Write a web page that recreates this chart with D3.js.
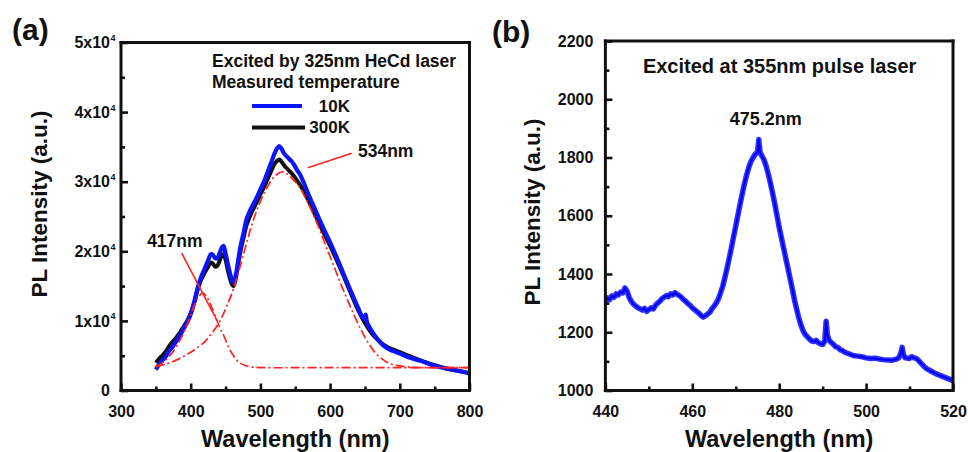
<!DOCTYPE html>
<html><head><meta charset="utf-8">
<script src="https://cdn.jsdelivr.net/npm/d3@7"></script>
<style>
html,body{margin:0;padding:0;background:#fff;}
svg{display:block;font-family:"Liberation Sans",Arial,Helvetica,sans-serif;font-weight:bold;}
</style></head><body>
<svg id="fig" width="968" height="452"></svg>
<script>
// ---------- panel (a): PL spectra, 325 nm HeCd excitation ----------
const wl10K = [350,355,360,365,370,375,380,385,390,395,400,405,410,415,420,425,429,432,435,438,441,444,447,450,453,456,459,461,463,466,469,472,476,480,484,488,492,496,500,505,510,515,520,524,527,530,533,537,541,545,549,553,557,562,568,575,582,590,600,610,620,630,640,646,649,651,653,657,662,668,675,685,695,705,715,725,735,745,755,765,775,785,795,800];
const pl10K = [3000,3800,4400,5000,5800,6400,7200,8000,8900,9800,11000,12700,14800,16300,17500,18700,19600,19500,19000,19000,19600,20400,20800,19700,18300,17000,15900,15500,15900,17300,19300,21000,22700,24600,25600,26400,27200,28000,28900,30000,31300,32600,34000,34800,35100,34800,34200,33700,33300,32900,32300,31600,31000,29900,28400,26800,25200,23400,21300,19000,16600,14200,11900,10600,10300,10900,9800,9000,8200,7400,6600,5900,5500,5100,4700,4400,4100,3700,3400,3200,3000,2800,2600,2400];

const wl300K = [350,355,360,365,370,375,380,385,390,395,400,405,410,415,420,425,429,432,435,438,441,444,447,450,453,456,459,461,463,466,469,472,476,480,484,488,492,496,500,505,510,515,520,524,527,530,533,537,541,545,549,553,557,562,568,575,582,590,600,610,620,630,640,646,650,655,660,668,675,685,695,705,715,725,735,745,755,765,775,785,795,800];
const pl300K = [4000,4600,5100,5700,6500,7100,7700,8400,9200,10000,11100,12600,14500,15900,16900,17800,18400,18200,17800,17900,18500,19300,19600,18800,17400,16200,15300,15000,15400,16800,18700,20300,22000,23700,24800,25700,26500,27300,28200,29200,30300,31400,32500,33000,33200,32900,32500,32000,31600,31200,30700,30100,29500,28700,27500,26000,24500,22800,20800,18600,16300,13900,11600,10400,9700,8900,8200,7300,6700,6100,5700,5300,4900,4500,4100,3800,3500,3200,3000,2800,2600,2500];

// fitted components (dash-dot)
const wlFit417 = [350,360,370,380,390,398,405,411,417,424,430,437,442,447,452,456,460,465,470,478,487,500,600,700,800];
const plFit417 = [3400,4000,5000,6400,8300,10300,12200,13400,14000,13300,12000,10200,9000,8000,6800,5900,5200,4500,4000,3600,3400,3300,3300,3300,3300];
const wlFit534 = [350,365,380,395,406,420,430,438,445,452,460,468,478,488,498,508,518,526,532,540,548,557,566,575,585,595,605,615,625,635,645,655,665,675,685,695,710,725,800];
const plFit534 = [3400,3800,4400,5200,5900,7000,8200,9300,10600,12200,14200,16800,20400,23900,26700,28900,30500,31200,31400,31000,30200,29100,27400,25500,23100,20500,18000,15400,13000,10700,8600,6800,5400,4500,3900,3600,3400,3300,3300];

const xTicksA = [300,400,500,600,700,800];
const xMinorA = [350,450,550,650,750];
const yTicksA = [0,10000,20000,30000,40000,50000];
const yMinorA = [5000,15000,25000,35000,45000];
const legendA = ["Excited by 325nm HeCd laser","Measured temperature"];
const seriesA = ["10K","300K"];

// ---------- panel (b): PL spectrum, 355 nm pulse laser ----------
const wlB = [440,440.5,441,441.5,442,442.5,443,443.5,444,444.5,445,445.5,446,446.5,447,447.5,448,448.5,449,449.5,450,450.5,451,451.5,452,452.5,453,453.5,454,454.5,455,455.5,456,456.5,457,457.5,458,458.5,459,459.5,460,460.5,461,461.5,462,462.5,463,463.5,464,464.5,465,465.5,466,466.5,467,467.5,468,468.5,469,469.5,470,470.5,471,471.5,472,472.5,473,473.5,474,474.5,475,475.3,475.6,476,476.5,477,477.5,478,478.5,479,479.5,480,480.5,481,481.5,482,482.5,483,483.5,484,484.5,485,485.5,486,486.5,487,487.5,488,488.5,489,489.5,490,490.5,490.8,491.1,491.5,492,492.5,493,493.5,494,494.5,495,496,497,498,499,500,501,502,503,504,505,506,507,507.5,508,508.3,508.6,509,510,510.5,511,511.5,512,512.5,513,513.5,514,515,516,517,518,519,520];
const plB = [1305,1318,1312,1325,1320,1332,1328,1338,1335,1352,1340,1318,1305,1296,1290,1284,1280,1276,1282,1272,1278,1284,1280,1292,1300,1306,1315,1320,1326,1322,1332,1328,1336,1330,1326,1320,1312,1306,1298,1292,1284,1278,1272,1266,1258,1252,1256,1262,1268,1280,1290,1300,1314,1335,1358,1388,1420,1455,1490,1528,1565,1602,1640,1676,1710,1740,1766,1786,1800,1812,1818,1862,1818,1806,1792,1770,1742,1710,1676,1640,1600,1560,1525,1490,1455,1420,1385,1350,1312,1280,1250,1225,1205,1192,1184,1176,1170,1168,1172,1164,1160,1158,1170,1238,1190,1172,1165,1158,1150,1148,1140,1138,1132,1126,1120,1118,1116,1112,1110,1111,1108,1106,1105,1104,1108,1112,1128,1148,1122,1112,1110,1116,1112,1110,1104,1096,1088,1080,1074,1066,1058,1052,1046,1040,1034];

const xTicksB = [440,460,480,500,520];
const xMinorB = [450,470,490,510];
const yTicksB = [1000,1200,1400,1600,1800,2000,2200];
const yMinorB = [1100,1300,1500,1700,1900,2100];
const noteB = "Excited at 355nm pulse laser";
const peakB = "475.2nm";

// ---------- drawing ----------
const svg = d3.select("#fig");
const ink = "#111";
const zip = (xs, ys) => xs.map((v, i) => [v, ys[i]]);

const xA = d3.scaleLinear().domain([300, 800]).range([121, 469.5]);
const yA = d3.scaleLinear().domain([0, 50000]).range([390.5, 42.5]);
const xB = d3.scaleLinear().domain([440, 520]).range([605.4, 953]);
const yB = d3.scaleLinear().domain([1000, 2200]).range([390.5, 41]);

const defs = svg.append("defs");
defs.append("clipPath").attr("id", "clipA").append("rect")
  .attr("x", xA(300)).attr("y", yA(50000)).attr("width", xA(800) - xA(300)).attr("height", yA(0) - yA(50000));
defs.append("clipPath").attr("id", "clipB").append("rect")
  .attr("x", xB(440)).attr("y", yB(2200)).attr("width", xB(520) - xB(440)).attr("height", yB(1000) - yB(2200));

// box frame plus inward major/minor ticks on the bottom and left edges
function axes(x, y, xt, xm, yt, ym, yPad, yFmt) {
  const [xl, xr] = x.range(), [yb, yt0] = y.range();
  const edges = [[xl, yt0, xr, yt0], [xr, yt0, xr, yb], [xl, yb, xr, yb], [xl, yt0, xl, yb]];
  svg.selectAll(null).data(edges).join("line")
    .attr("x1", d => d[0]).attr("y1", d => d[1]).attr("x2", d => d[2]).attr("y2", d => d[3])
    .attr("stroke", ink).attr("stroke-width", 3).attr("stroke-linecap", "square");
  const parts = [
    svg.append("g").attr("transform", `translate(0,${yb})`)
      .call(d3.axisBottom(x).tickValues(xt).tickSize(-7).tickPadding(15).tickFormat(d3.format("d"))),
    svg.append("g").attr("transform", `translate(0,${yb})`)
      .call(d3.axisBottom(x).tickValues(xm).tickSize(-4).tickFormat("")),
    svg.append("g").attr("transform", `translate(${xl},0)`)
      .call(d3.axisLeft(y).tickValues(yt).tickSize(-7).tickPadding(yPad).tickFormat(yFmt || d3.format("d"))),
    svg.append("g").attr("transform", `translate(${xl},0)`)
      .call(d3.axisLeft(y).tickValues(ym).tickSize(-4).tickFormat(""))
  ];
  parts.forEach(a => {
    a.select(".domain").remove();
    a.selectAll(".tick line").attr("stroke", ink).attr("stroke-width", 2.6);
    a.selectAll(".tick text").attr("font-size", 16).attr("fill", ink);
  });
}

function label(txt, x, y, size, anchor) {
  return svg.append("text").attr("x", x).attr("y", y).attr("font-size", size)
    .attr("fill", ink).attr("text-anchor", anchor || "start").text(txt);
}

// ---- panel (a)
const lineA = d3.line().x(d => xA(d[0])).y(d => yA(d[1])).curve(d3.curveCatmullRom.alpha(0.5));
const plotA = svg.append("g").attr("clip-path", "url(#clipA)");
plotA.append("path").datum(zip(wl300K, pl300K)).attr("d", lineA)
  .attr("fill", "none").attr("stroke", "#111").attr("stroke-width", 4).attr("stroke-linejoin", "round");
plotA.append("path").datum(zip(wl10K, pl10K)).attr("d", lineA)
  .attr("fill", "none").attr("stroke", "#0a14ff").attr("stroke-width", 4.2).attr("stroke-linejoin", "round");
[zip(wlFit417, plFit417), zip(wlFit534, plFit534)].forEach(pts => {
  plotA.append("path").datum(pts).attr("d", lineA)
    .attr("fill", "none").attr("stroke", "#f22").attr("stroke-width", 1.7)
    .attr("stroke-dasharray", "9,3,2,3");
});

axes(xA, yA, xTicksA, xMinorA, yTicksA, yMinorA, 11, d => d === 0 ? "0" : `${d / 10000}x10`);
// exponent of the y tick labels
svg.selectAll("text.sup").data(yTicksA.filter(d => d > 0)).join("text").attr("class", "sup")
  .attr("x", xA(300) - 10.5).attr("y", d => yA(d) - 1.5)
  .attr("font-size", 9).attr("fill", ink).text("4");

// pointers to the fitted peaks
const pointer = (a, b) => svg.append("line")
  .attr("x1", xA(a[0])).attr("y1", yA(a[1])).attr("x2", xA(b[0])).attr("y2", yA(b[1]))
  .attr("stroke", "#f22").attr("stroke-width", 1.6);
pointer([568, 32000], [631, 34100]);
pointer([387, 19750], [438, 10000]);
label("534nm", xA(640), yA(33560), 17.5);
label("417nm", xA(337.5), yA(20620), 17.5);

// legend
const lx = xA(300), ly = yA(50000);
label(legendA[0], lx + 91, ly + 24.5, 17.5);
label(legendA[1], lx + 91, ly + 45.5, 17.5);
svg.append("line").attr("x1", lx + 131).attr("x2", lx + 181).attr("y1", ly + 63.5).attr("y2", ly + 63.5)
  .attr("stroke", "#0a14ff").attr("stroke-width", 4);
svg.append("line").attr("x1", lx + 131).attr("x2", lx + 184).attr("y1", ly + 85).attr("y2", ly + 85)
  .attr("stroke", "#111").attr("stroke-width", 4);
label(seriesA[0], lx + 229, ly + 69.5, 17, "end");
label(seriesA[1], lx + 229, ly + 90.5, 17, "end");

// axis titles and panel tag
label("Wavelength (nm)", (xA.range()[0] + xA.range()[1]) / 2, 447, 23.5, "middle");
svg.append("text").attr("transform", "translate(47,204) rotate(-90)").attr("text-anchor", "middle")
  .attr("font-size", 22.5).attr("fill", ink).text("PL Intensity (a.u.)");
label("(a)", 12, 40, 30);

// ---- panel (b)
const lineB = d3.line().x(d => xB(d[0])).y(d => yB(d[1]));
const plotB = svg.append("g").attr("clip-path", "url(#clipB)");
plotB.append("path").datum(zip(wlB, plB)).attr("d", lineB)
  .attr("fill", "none").attr("stroke", "#3030ff").attr("stroke-width", 5.5)
  .attr("stroke-linejoin", "round");
plotB.append("path").datum(zip(wlB, plB)).attr("d", lineB)
  .attr("fill", "none").attr("stroke", "#0000f0").attr("stroke-width", 2)
  .attr("stroke-linejoin", "round");
axes(xB, yB, xTicksB, xMinorB, yTicksB, yMinorB, 12);
label(noteB, xB(480.1), yB(2089), 20, "middle");
label(peakB, xB(476.9), yB(1910), 18, "middle");
label("Wavelength (nm)", (xB.range()[0] + xB.range()[1]) / 2, 447, 23.5, "middle");
svg.append("text").attr("transform", "translate(540,212) rotate(-90)").attr("text-anchor", "middle")
  .attr("font-size", 22.5).attr("fill", ink).text("PL Intensity (a.u.)");
label("(b)", 492, 42, 30);
</script>
</body></html>
